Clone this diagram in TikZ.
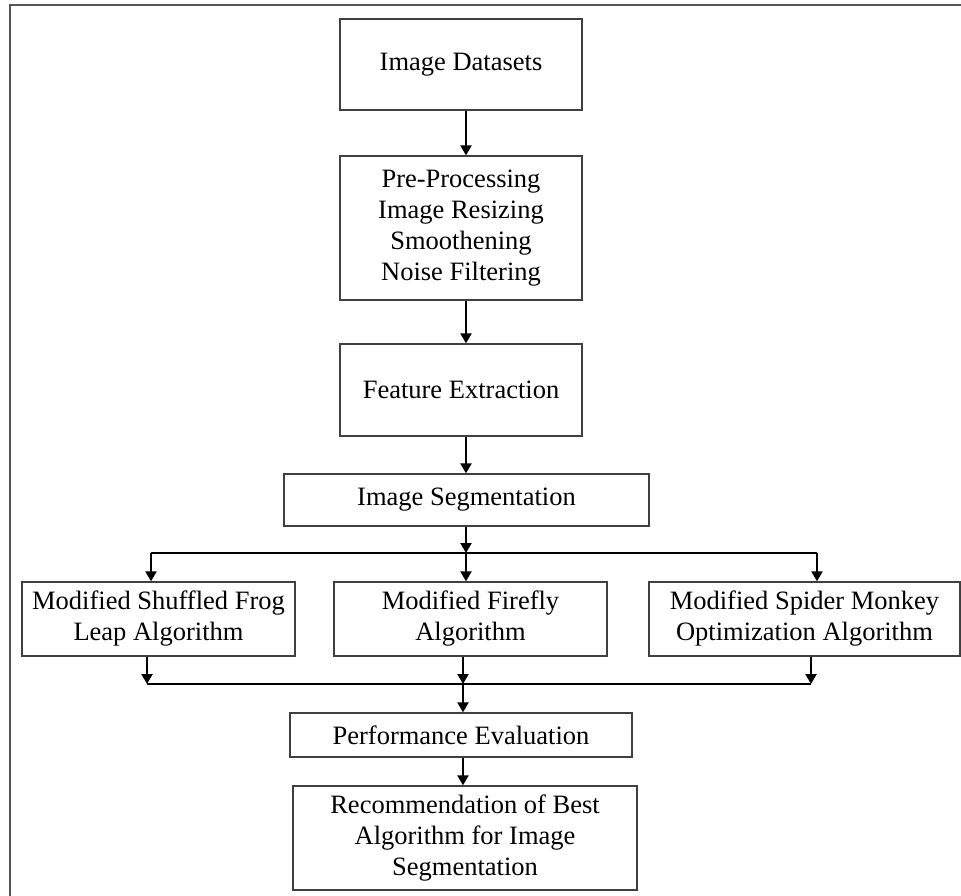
\documentclass[tikz,border=0pt]{standalone}
\usepackage{fontspec}
\setmainfont{Liberation Serif}
\usetikzlibrary{arrows.meta,positioning,calc}

\definecolor{boxline}{HTML}{404040}
\definecolor{frameline}{HTML}{555555}

\begin{document}
\begin{tikzpicture}[
  x=1pt, y=-1pt,
  blk/.style={draw=boxline, line width=1.3pt, inner sep=0pt, align=center,
              font=\fontsize{26.5}{31}\selectfont},
  arr/.style={-{Triangle[length=10pt,width=11pt]}, line width=2.2pt},
  bus/.style={line width=2.8pt},
  >=Stealth
]
  \useasboundingbox (0,0) rectangle (961,896);
  \draw[frameline, line width=1.6pt] (10,896) -- (10,5) -- (961,5);

  % main column
  \node[blk, minimum width=242pt, minimum height=91pt]  (data) at (461,64.5) {Image Datasets};
  \node[blk, minimum width=242pt, minimum height=144pt] (pre)  at (461,228)
       {Pre-Processing\\Image Resizing\\Smoothening\\Noise Filtering};
  \node[blk, minimum width=242pt, minimum height=92pt]  (feat) at (461,390) {Feature Extraction};
  \node[blk, minimum width=365pt, minimum height=52pt]  (seg)  at (466.5,500) {Image Segmentation};

  % the three algorithms
  \node[blk, minimum width=273pt, minimum height=74pt] (msfl)   at (158.5,619)
       {Modified Shuffled Frog\\Leap Algorithm};
  \node[blk, minimum width=273pt, minimum height=74pt] (fire)   at (470.5,619)
       {Modified Firefly\\Algorithm};
  \node[blk, minimum width=311pt, minimum height=74pt] (spider) at (804.5,619)
       {Modified Spider Monkey\\Optimization Algorithm};

  \node[blk, minimum width=342pt, minimum height=44pt]  (perf) at (461,735) {Performance Evaluation};
  \node[blk, minimum width=344pt, minimum height=104pt] (rec)  at (465,838)
       {Recommendation of Best\\Algorithm for Image\\Segmentation};

  % connectors
  \coordinate (col) at (466,0);
  \draw[arr] (col |- data.south) -- (col |- pre.north);
  \draw[arr] (col |- pre.south) -- (col |- feat.north);
  \draw[arr] (col |- feat.south) -- (col |- seg.north);

  \coordinate (split) at (466,553);
  \coordinate (bl) at (151,553);
  \coordinate (br) at (817,553);
  \draw[arr] (split |- seg.south) -- (split);
  \draw[bus] (bl) -- (br);
  \draw[arr] (bl) -- (bl |- msfl.north);
  \draw[arr] (split) -- (split |- fire.north);
  \draw[arr] (br) -- (br |- spider.north);

  \coordinate (ml) at (147,684);
  \coordinate (mc) at (463,684);
  \coordinate (mr) at (811,684);
  \draw[arr] (ml |- msfl.south) -- (ml);
  \draw[arr] (mc |- fire.south) -- (mc);
  \draw[arr] (mr |- spider.south) -- (mr);
  \draw[bus] (ml) -- (mr);
  \draw[arr] (mc) -- (mc |- perf.north);
  \draw[arr] (mc |- perf.south) -- (mc |- rec.north);
\end{tikzpicture}
\end{document}
